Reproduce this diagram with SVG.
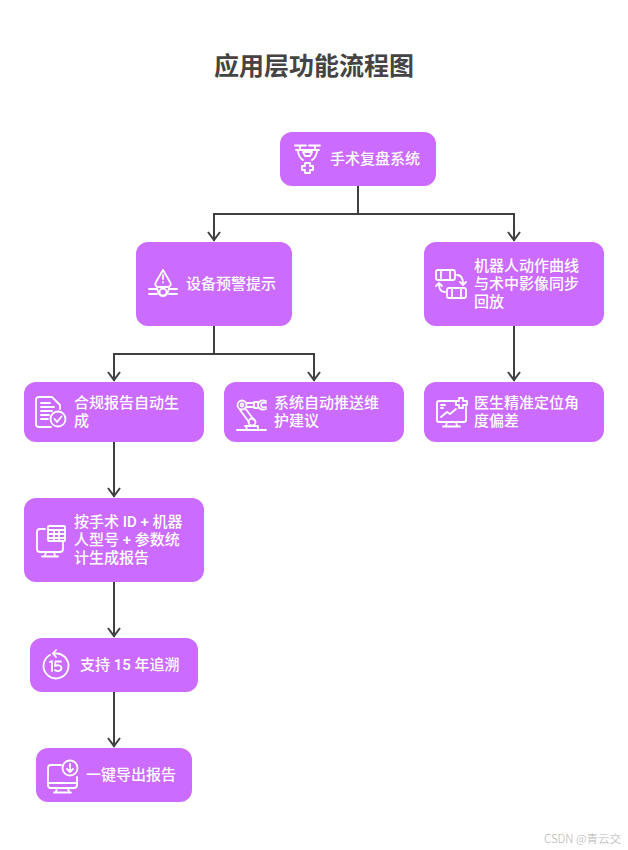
<svg xmlns="http://www.w3.org/2000/svg" width="628" height="850" viewBox="0 0 628 850">
<style>
.n{fill:#cb6bff}
.t{font-family:Roboto,"Noto Sans CJK SC","Noto Sans",sans-serif;font-size:15px;font-weight:500;fill:#fff}
.i{fill:none;stroke:#fff;stroke-width:1.8;stroke-linecap:round;stroke-linejoin:round}
.c{fill:none;stroke:#404040;stroke-width:2}
.title{font-family:"Noto Sans CJK SC",sans-serif;font-size:25px;font-weight:700;fill:#444}
.wm{font-family:"Noto Sans CJK SC",sans-serif;font-size:11.500px;font-weight:300;fill:#b5b5b5}
</style>
<rect width="628" height="850" fill="#fff"/>
<text class="title" x="314" y="75" text-anchor="middle">应用层功能流程图</text>
<g id="connectors">
<path class="c" d="M358 186V214H214V241"/>
<path class="c" d="M358 214H514V241"/>
<path class="c" d="M214 326V354H114V381"/>
<path class="c" d="M214 354H314V381"/>
<path class="c" d="M514 326V381"/>
<path class="c" d="M114 442V497"/>
<path class="c" d="M114 582V637"/>
<path class="c" d="M114 692V747"/>
<path class="c" d="M208 232L214 240L220 232M508 232L514 240L520 232M108 372L114 380L120 372M308 372L314 380L320 372M508 372L514 380L520 372M108 488L114 496L120 488M108 628L114 636L120 628M108 738L114 746L120 738"/>
</g>
<g id="n1"><rect class="n" x="280" y="132" width="156" height="54" rx="12"/>
<g class="i"><path d="M295 145.500H306M309 145.500H320M300 145.500V149M315 145.500V149M296 150H319M298 150C298 156 300 158 303 160M317 150C317 156 315 158 312 160M303 152H312L310 156H305Z"/>
<path d="M305 163H310V166H313V170H310V173H305V170H302V166H305Z"/></g>
<text class="t" x="330" y="164">手术复盘系统</text></g>
<g id="n2"><rect class="n" x="136" y="242" width="156" height="84" rx="12"/>
<g class="i"><path d="M163 270L170 282C172 285 170 287 167 287H159C156 287 154 285 156 282ZM163 275V279M163 282V282.500"/>
<path d="M149 289H156M149 294H157M170 289H177M169 294H177"/><circle cx="163" cy="292" r="3.500"/><path d="M157 288C158 294 160 296 163 296C166 296 168 294 169 288"/></g>
<text class="t" x="186" y="289">设备预警提示</text></g>
<g id="n3"><rect class="n" x="424" y="242" width="180" height="84" rx="12"/>
<g class="i"><rect x="436" y="270" width="19" height="10" rx="2"/><path d="M441 270V280M450 270V280"/><rect x="447" y="288" width="19" height="10" rx="2"/><path d="M452 288V298M461 288V298"/>
<path d="M457 275C461 275 463 278 463 284M460 282L463 285L466 282M445 292C441 292 439 289 439 284M436 286L439 283L442 286"/></g>
<text class="t" x="474" y="271">机器人动作曲线</text><text class="t" x="474" y="289">与术中影像同步</text><text class="t" x="474" y="307">回放</text></g>
<g id="n4"><rect class="n" x="24" y="382" width="180" height="60" rx="12"/>
<g class="i"><path d="M51 427H39C37 427 36 426 36 424V400C36 398 37 397 39 397H52L60 405V409"/><path d="M41 403H50M41 407H54M41 411H52M41 415H49M41 419H48"/><circle cx="58" cy="419" r="7.500"/><path d="M54.500 419L57 422L61.500 416.500"/></g>
<text class="t" x="74" y="408">合规报告自动生</text><text class="t" x="74" y="426">成</text></g>
<g id="n5"><rect class="n" x="224" y="382" width="180" height="60" rx="12"/>
<g class="i"><circle cx="242" cy="405" r="4.500"/><circle cx="242" cy="405" r="1.500"/><path d="M247 403H254M247 407H254"/><rect x="254" y="402" width="4" height="6"/><path d="M266 401C260 399 258 403 258 405C258 407 260 411 266 409M266 403C263 402 261 403 261 405C261 407 263 408 266 407"/>
<path d="M240 410L249 422M245 408L254 420"/><circle cx="252" cy="422" r="3.500"/><path d="M245 426H258V430M246 426L247 430M237 430H266"/></g>
<text class="t" x="274" y="408">系统自动推送维</text><text class="t" x="274" y="426">护建议</text></g>
<g id="n6"><rect class="n" x="424" y="382" width="180" height="60" rx="12"/>
<g class="i"><path d="M455 401H439C438 401 437 402 437 403V420C437 421 438 422 439 422H464C465 422 466 421 466 420V407"/><path d="M447 422L446 426M456 422L457 426M443 426.500H460"/><path d="M441 417L447 412L450 414L456 409M441 405H445M441 408H443"/><path d="M459 398H463V401H467V405H463V408H459V405H456V401H459Z"/></g>
<text class="t" x="474" y="408">医生精准定位角</text><text class="t" x="474" y="426">度偏差</text></g>
<g id="n7"><rect class="n" x="24" y="498" width="180" height="84" rx="12"/>
<g class="i"><path d="M45 529H40C38 529 37 530 37 532V549C37 551 38 552 40 552H60C62 552 63 551 63 549V542"/><path d="M46 552L45 556M54 552L55 556M42 556.500H58"/><rect x="48" y="526" width="17" height="15" rx="1"/><path d="M48 530H65M48 534H65M48 538H65M54 530V541M59 530V541"/></g>
<text class="t" x="74" y="527">按手术 ID + 机器</text><text class="t" x="74" y="545">人型号 + 参数统</text><text class="t" x="74" y="563">计生成报告</text></g>
<g id="n8"><rect class="n" x="30" y="638" width="168" height="54" rx="12"/>
<g class="i"><path d="M50 655A12.500 12.500 0 1 0 57 653.500H53"/><path d="M56 650L53 653.500L56 657"/><path d="M50 662L52 661V671M55.500 661.500H61M55.500 661.500L55 666C58 664.500 61.500 665.500 61.500 668C61.500 671 57 672 55 670"/></g>
<text class="t" x="80" y="670">支持 15 年追溯</text></g>
<g id="n9"><rect class="n" x="36" y="748" width="156" height="54" rx="12"/>
<g class="i"><path d="M61 765H51C49 765 48 766 48 768V785C48 787 49 788 51 788H74C76 788 77 787 77 785V777"/><path d="M48 783H77M57 788L56 792M68 788L69 792M54 792.500H71"/><circle cx="70" cy="768" r="7.500"/><path d="M70 764V772M67 769L70 772L73 769"/></g>
<text class="t" x="86" y="780">一键导出报告</text></g>
<text class="wm" x="544" y="843">CSDN @青云交</text>
</svg>
